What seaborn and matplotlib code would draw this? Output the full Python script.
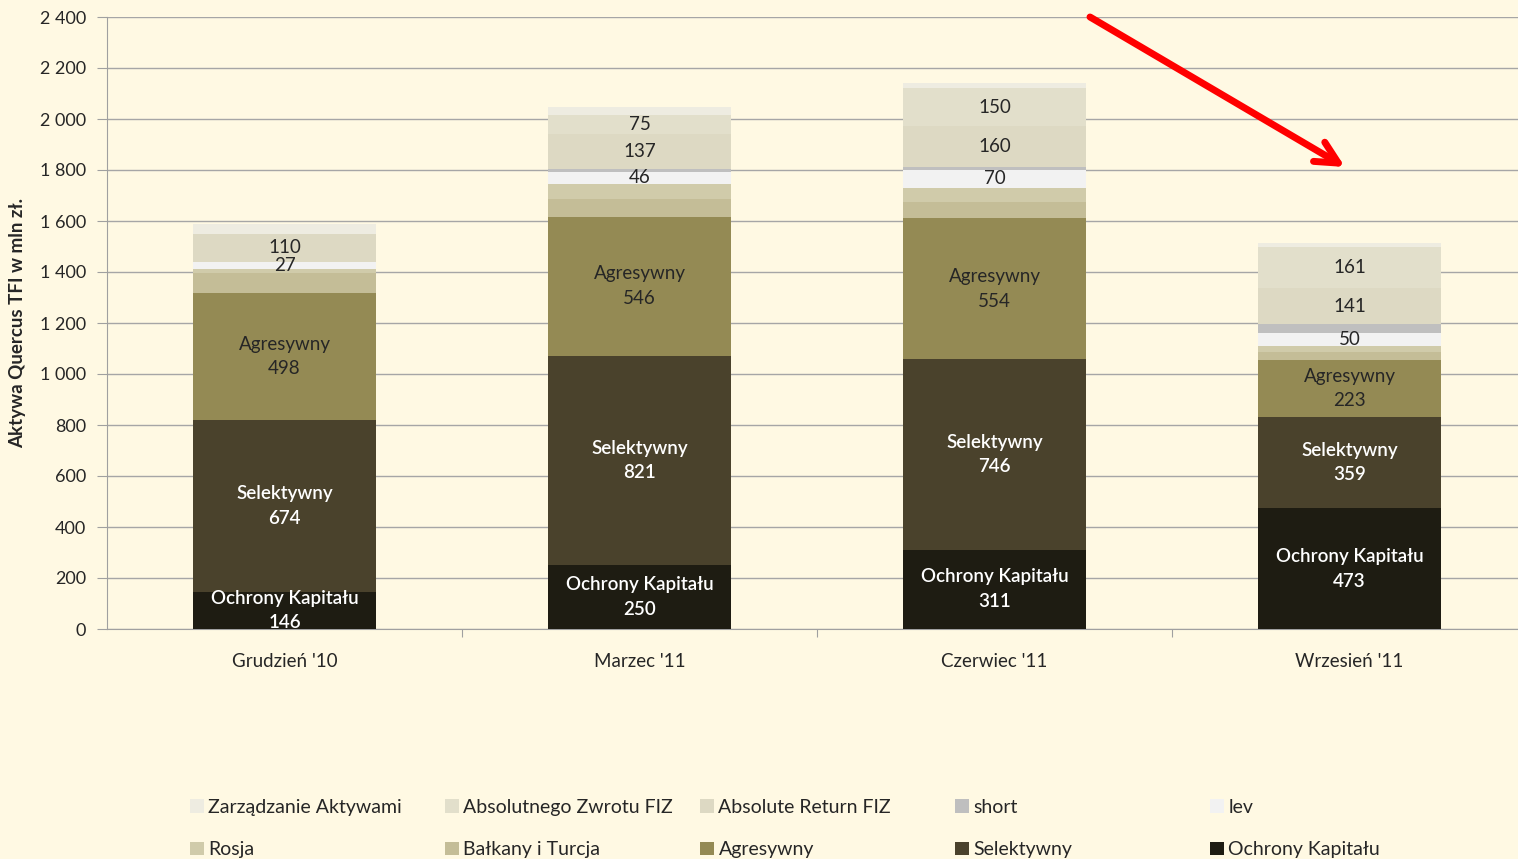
import numpy as np
import pandas as pd
import matplotlib
matplotlib.use("Agg")
import matplotlib.pyplot as plt
from matplotlib.patches import Patch
from matplotlib.ticker import FuncFormatter, MultipleLocator
import seaborn as sns

# ----------------------------
# Daten (mln zł)
# ----------------------------
okresy = ["Grudzień '10", "Marzec '11", "Czerwiec '11", "Wrzesień '11"]

ochrony = [146, 250, 311, 473]
selektywny = [674, 821, 746, 359]
agresywny = [498, 546, 554, 223]
balkany = [80, 71, 65, 33]
rosja = [13, 58, 55, 22]
lev = [27, 46, 70, 50]
short = [2, 12, 10, 35]
abs_return = [110, 137, 160, 141]
abs_zwrotu = [0, 75, 150, 161]
zarzadzanie = [38, 31, 22, 17]

# von unten nach oben
serie_namen = ["Ochrony Kapitału", "Selektywny", "Agresywny", "Bałkany i Turcja", "Rosja",
               "lev", "short", "Absolute Return FIZ", "Absolutnego Zwrotu FIZ", "Zarządzanie Aktywami"]
serie_werte = [ochrony, selektywny, agresywny, balkany, rosja,
               lev, short, abs_return, abs_zwrotu, zarzadzanie]
farben = ["#1E1C12", "#4A422C", "#948A54", "#C4BD97", "#D0CBAA",
          "#F2F2F2", "#BFBFBF", "#DDD9C3", "#E2DFCB", "#EEECE1"]
# Beschriftung: 2 = Name + Wert, 1 = nur Wert, 0 = keine
beschriftung = [2, 2, 2, 0, 0, 1, 0, 1, 1, 0]
text_farbe = ["white", "white", "#262626", None, None, "#262626", None, "#262626", "#262626", None]

bg = "#FFF9E3"

plt.rcParams["font.family"] = ["Lato", "DejaVu Sans"]

df = pd.DataFrame(dict(zip(serie_namen, serie_werte)), index=okresy)
kumuliert = df.cumsum(axis=1)

fig = plt.figure(figsize=(15.18, 8.59), dpi=100, facecolor=bg)
ax = fig.add_axes([107 / 1518, 1 - 629 / 859, 1420 / 1518, 612 / 859])
ax.set_facecolor(bg)

# ----------------------------
# Gestapelte Balken (von oben nach unten übermalt)
# ----------------------------
for name, farbe in zip(reversed(serie_namen), reversed(farben)):
   sns.barplot(x=okresy, y=kumuliert[name].values, color=farbe, width=0.513,
               saturation=1, ax=ax, zorder=3, linewidth=0)

# Beschriftungen
for i, name in enumerate(serie_namen):
   if beschriftung[i] == 0:
      continue
   for j, okres in enumerate(okresy):
      wert = df.loc[okres, name]
      if wert <= 0:
         continue
      mitte = kumuliert.loc[okres, name] - wert / 2
      if beschriftung[i] == 2:
         txt = f"{name}\n{wert}"
      else:
         txt = f"{wert}"
      ax.text(j, mitte, txt, ha="center", va="center", fontsize=13.5,
              color=text_farbe[i], zorder=5, linespacing=1.55,
              fontweight="semibold" if text_farbe[i] == "white" else "normal")

# ----------------------------
# Achsen
# ----------------------------
ax.set_xlim(-0.5, 3.5)
ax.set_ylim(0, 2400)
ax.yaxis.set_major_locator(MultipleLocator(200))
ax.yaxis.set_major_formatter(FuncFormatter(lambda v, p: f"{int(v):,}".replace(",", " ")))
ax.set_xticks([0.5, 1.5, 2.5])
ax.set_xticklabels([])
ax.set_xticks(range(4), minor=True)
ax.set_xticklabels(okresy, minor=True)
ax.tick_params(axis="x", which="minor", length=0, pad=17, labelsize=13.5, colors="#262626")
ax.tick_params(axis="x", which="major", length=6, color="#A0A0A0")
ax.tick_params(axis="y", length=7, color="#A0A0A0", labelsize=13, labelcolor="#262626", pad=8)
ax.yaxis.grid(True, color="#A6A6A6", linewidth=1, zorder=0)
ax.set_axisbelow(True)
for s in ["top", "right"]:
   ax.spines[s].set_visible(False)
for s in ["left", "bottom"]:
   ax.spines[s].set_color("#A0A0A0")
ax.set_xlabel("")
ax.set_ylabel("Aktywa Quercus TFI w mln zł.", fontsize=13.5, fontweight="bold",
              color="#262626", labelpad=10)

# ----------------------------
# Legende (zeilenweise, von oben)
# ----------------------------
leg_namen = list(reversed(serie_namen))
leg_farben = list(reversed(farben))
for k in range(5):
   handles = [Patch(facecolor=leg_farben[k], edgecolor="none", label=leg_namen[k]),
              Patch(facecolor=leg_farben[k + 5], edgecolor="none", label=leg_namen[k + 5])]
   leg = fig.legend(handles=handles, loc="upper left",
                    bbox_to_anchor=((190 + 255 * k) / 1518, 1 - 799 / 859),
                    frameon=False, fontsize=14, handlelength=0.7, handleheight=0.7,
                    handletextpad=0.25, labelspacing=1.3, borderaxespad=0, borderpad=0)
   for t in leg.get_texts():
      t.set_color("#262626")

# ----------------------------
# Roter Pfeil
# ----------------------------
ax.annotate("", xy=(1345, 859 - 167), xycoords="figure pixels",
            xytext=(1090, 859 - 17), textcoords="figure pixels",
            arrowprops=dict(arrowstyle="->,head_length=1.6,head_width=0.8",
                            color="#FF0000", lw=5, shrinkA=0, shrinkB=0),
            annotation_clip=False)

fig.savefig("out.png", dpi=100, facecolor=bg)
